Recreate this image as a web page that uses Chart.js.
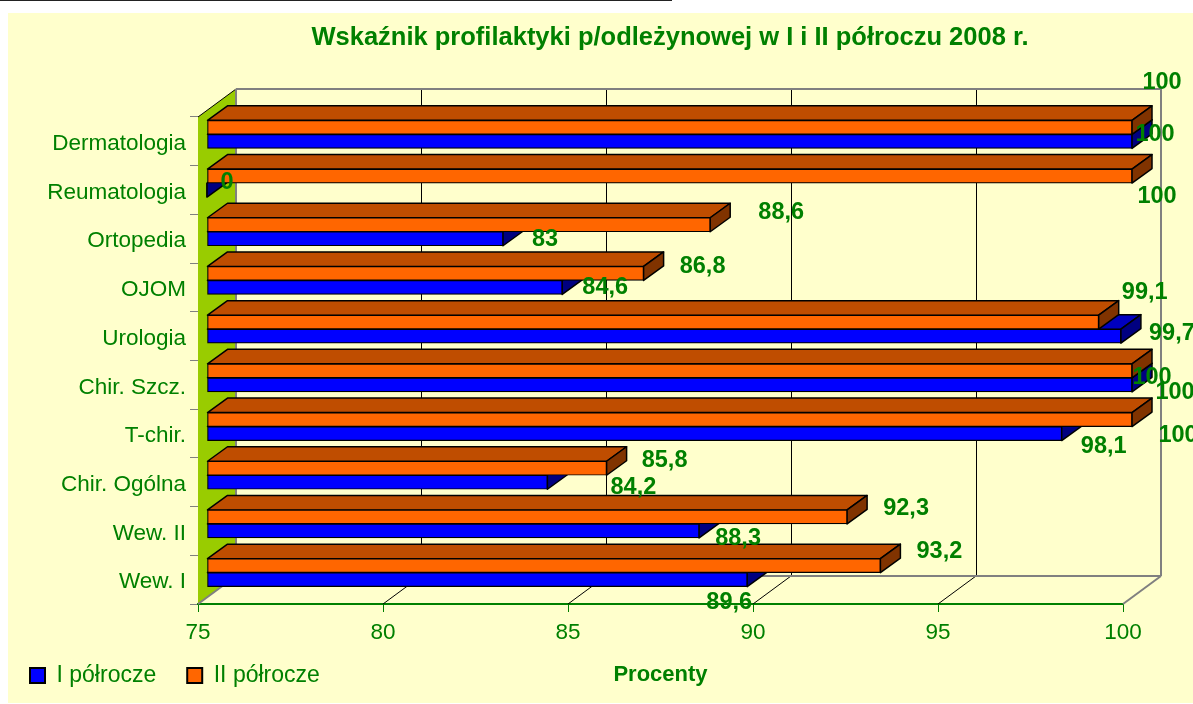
<!DOCTYPE html>
<html><head><meta charset="utf-8">
<style>html,body{margin:0;padding:0;background:#fff;overflow:hidden}canvas{display:block}</style>
<script src="https://cdn.jsdelivr.net/npm/chart.js@4"></script>
</head><body><canvas id="c" width="1193" height="704"></canvas>
<script>
const categories = ['Dermatologia','Reumatologia','Ortopedia','OJOM','Urologia','Chir. Szcz.','T-chir.','Chir. Ogólna','Wew. II','Wew. I'];
const seriesI  = [100, 0, 83, 84.6, 99.7, 100, 98.1, 84.2, 88.3, 89.6];
const seriesII = [100, 100, 88.6, 86.8, 99.1, 100, 100, 85.8, 92.3, 93.2];
const xTicks = [75, 80, 85, 90, 95, 100];
const titleText = 'Wskaźnik profilaktyki p/odleżynowej w I i II półroczu 2008 r.';
const axisTitle = 'Procenty';

// hand placement of the value labels, relative to the bar tip
const nudgeI  = [[23,-7],[20,-8],[42,1],[43,0],[51,-3],[20,-7],[42,13],[86,5],[39,8],[-18,23]];
const nudgeII = [[30,-45],[25,20],[71,-12],[59,-7],[46,-30],[43,22],[46,16],[58,-8],[59,-8],[59,-14]];

const GREEN = '#008000', SHIFT_X = 9, SHIFT_Y = -7, DX = 20, DY = -14.5, WX = 38, WY = -28;
const LEGEND_PAD = 31;
const faces = [{top:'#0000BF', side:'#000080'}, {top:'#BF4D00', side:'#803300'}];
const blueFill = c => c.raw <= 75 ? 'transparent' : '#0000FF';

function poly(ctx, pts, fill, stroke, lw) {
  ctx.beginPath();
  pts.forEach((p,i)=> i?ctx.lineTo(p[0],p[1]):ctx.moveTo(p[0],p[1]));
  ctx.closePath();
  if (fill) { ctx.fillStyle = fill; ctx.fill(); }
  if (stroke) { ctx.strokeStyle = stroke; ctx.lineWidth = lw; ctx.stroke(); }
}
function line(ctx, x1,y1,x2,y2,color,lw){ctx.beginPath();ctx.moveTo(x1,y1);ctx.lineTo(x2,y2);ctx.strokeStyle=color;ctx.lineWidth=lw;ctx.stroke();}

const scene = {
  id:'scene',
  beforeDraw(chart){
    const c = chart.ctx;
    c.save();
    c.fillStyle='#fff'; c.fillRect(0,0,chart.width,chart.height);
    c.fillStyle='#FFFFCC'; c.fillRect(8,13,chart.width-8,690);
    c.fillStyle='#222'; c.fillRect(0,0,672,1);
    c.restore();
  },
  afterLayout(chart){
    const l = chart.legend;
    if (l) { l.left=30-LEGEND_PAD; l.right=500; l.top=664-LEGEND_PAD; l.bottom=722; }
    const t = chart.titleBlock;
    if (t) { t.left=147; t.right=1193; }
  },
  beforeDatasetsDraw(chart){
    const c = chart.ctx, a = chart.chartArea, x = chart.scales.x;
    c.save();
    // left wall
    poly(c,[[a.left,a.top],[a.left+WX,a.top+WY],[a.left+WX,a.bottom+WY],[a.left,a.bottom]],'#99CC00');
    line(c,a.left,a.top,a.left+WX,a.top+WY,'#000',1);
    // back wall grid and floor lines
    xTicks.slice(1,-1).forEach(v=>{
      const px = Math.round(x.getPixelForValue(v));
      line(c,px+WX+.5,a.top+WY,px+WX+.5,a.bottom+WY,'#000',1);
      line(c,px,a.bottom,px+WX,a.bottom+WY,'#000',1);
    });
    c.lineJoin='miter';
    line(c,a.left+WX,a.top+WY,a.right+WX,a.top+WY,'#808080',2);
    line(c,a.right+WX,a.top+WY,a.right+WX,a.bottom+WY,'#808080',2);
    line(c,a.left+WX,a.bottom+WY,a.right+WX,a.bottom+WY,'#808080',2);
    line(c,a.left+WX,a.top+WY,a.left+WX,a.bottom+WY,'#808080',2);
    line(c,a.left,a.bottom,a.left+WX,a.bottom+WY,'#808080',2);
    line(c,a.right,a.bottom,a.right+WX,a.bottom+WY,'#808080',2);
    c.restore();
  },
  beforeDatasetDraw(chart,args){
    const c = chart.ctx, a = chart.chartArea, f = faces[args.index];
    c.save();
    c.translate(SHIFT_X,SHIFT_Y);
    c.lineJoin='round';
    args.meta.data.forEach(b=>{
      const x1 = Math.max(b.x,a.left), t = b.y-b.height/2, bt = b.y+b.height/2;
      const x0 = Math.max(Math.min(b.base,b.x),a.left);
      if (x1 > a.left) poly(c,[[x0,t],[x0+DX,t+DY],[x1+DX,t+DY],[x1,t]],f.top,'#000',1.5);
      poly(c,[[x1,t],[x1+DX,t+DY],[x1+DX,bt+DY],[x1,bt]],f.side,'#000',1.5);
    });
  },
  afterDatasetDraw(chart){ chart.ctx.restore(); },
  afterDatasetsDraw(chart){
    const c = chart.ctx, a = chart.chartArea;
    c.save();
    c.font='bold 23.5px "Liberation Sans", Arial, sans-serif';
    c.fillStyle=GREEN; c.textAlign='center'; c.textBaseline='middle';
    [nudgeI,nudgeII].forEach((nudge,d)=>{
      chart.getDatasetMeta(d).data.forEach((b,i)=>{
        const v = chart.data.datasets[d].data[i];
        c.fillText(String(v).replace('.',','), Math.max(b.x,a.left)+SHIFT_X+nudge[i][0], b.y+SHIFT_Y+nudge[i][1]);
      });
    });
    c.restore();
  }
};

new Chart(document.getElementById('c'),{
  type:'bar',
  plugins:[scene],
  data:{labels:categories,datasets:[
    {label:'I półrocze',data:seriesI,base:75,backgroundColor:blueFill,borderColor:'#000',borderWidth:1.2,borderSkipped:false,order:1,barThickness:14,clip:{left:1,top:10,right:10,bottom:10}},
    {label:'II półrocze',data:seriesII,base:75,backgroundColor:'#FF6600',borderColor:'#000',borderWidth:1.2,borderSkipped:false,order:0,barThickness:14,clip:{left:1,top:10,right:10,bottom:10}}
  ]},
  options:{
    indexAxis:'y',responsive:false,animation:false,
    layout:{padding:{left:0,top:0,right:70,bottom:-64}},
    scales:{
      x:{min:75,max:100,
        afterBuildTicks(s){s.ticks=xTicks.map(v=>({value:v}));},
        afterFit(s){s.height=100;},
        grid:{drawOnChartArea:false,color:GREEN,tickLength:8,tickColor:GREEN},
        border:{color:GREEN,width:2},
        ticks:{color:GREEN,font:{family:'"Liberation Sans"',size:22.5},padding:7,maxRotation:0,autoSkip:false},
        title:{display:true,text:axisTitle,color:GREEN,font:{family:'"Liberation Sans"',size:22,weight:'bold'},padding:{top:13,bottom:16}}
      },
      y:{
        afterFit(s){s.width=198;},
        afterUpdate(s){
          // category names sit slightly below the band centre in the reference
          if (s._labelsNudged) return;
          s._labelsNudged = true;
          const draw = s.drawLabels;
          s.drawLabels = function(area){ s.ctx.save(); s.ctx.translate(0,2.5); draw.call(s,area); s.ctx.restore(); };
        },
        grid:{drawOnChartArea:false,color:'#808080',tickLength:8},
        border:{display:false},
        ticks:{color:GREEN,font:{family:'"Liberation Sans"',size:22.5},padding:4,autoSkip:false}
      }
    },
    plugins:{
      title:{display:true,text:titleText,color:GREEN,align:'center',font:{family:'"Liberation Sans"',size:25.5,weight:'bold'},padding:{top:23,bottom:63.4}},
      legend:{position:'bottom',align:'start',labels:{color:GREEN,boxWidth:15,boxHeight:15,padding:LEGEND_PAD,
        generateLabels(chart){ const items = Chart.defaults.plugins.legend.labels.generateLabels(chart); items.forEach(i=>{i.lineWidth=2;}); return items; },
        sort:(a,b)=>a.datasetIndex-b.datasetIndex,font:{family:'"Liberation Sans"',size:23}}},
      tooltip:{enabled:false}
    }
  }
});
</script></body></html>
